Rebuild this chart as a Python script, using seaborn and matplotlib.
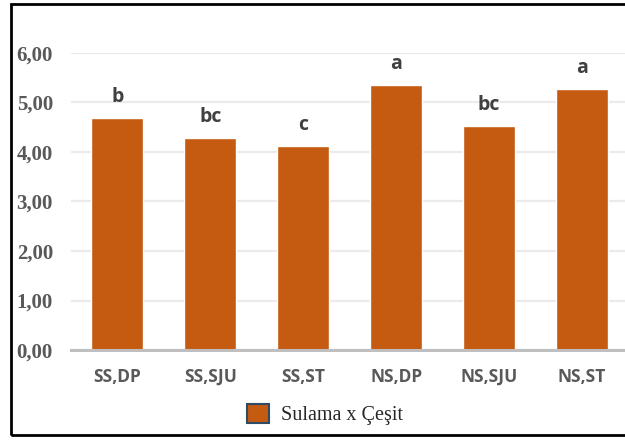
import matplotlib
matplotlib.use("Agg")
import matplotlib.pyplot as plt
import seaborn as sns
import pandas as pd
from matplotlib.patches import Patch, Rectangle
from matplotlib.ticker import FuncFormatter

categories = ["SS,DP", "SS,SJU", "SS,ST", "NS,DP", "NS,SJU", "NS,ST"]
values = [4.69, 4.28, 4.12, 5.35, 4.52, 5.27]
letters = ["b", "bc", "c", "a", "bc", "a"]
yticks = [0, 1, 2, 3, 4, 5, 6]
legend_label = "Sulama x Çeşit"

df = pd.DataFrame({"cat": categories, "val": values})

sns.set_style("white")
bar_color = "#C55A11"

fig = plt.figure(figsize=(6.25, 4.4), dpi=100)
ax = fig.add_axes([71/625, 1-350/440, (628.5-71)/625, (350-53)/440])

sns.barplot(data=df, x="cat", y="val", color=bar_color, saturation=1,
            width=0.56, ax=ax, zorder=3)

ax.set_ylim(0, 6)
ax.set_xlim(-0.5, len(categories)-0.5)
ax.set_yticks(yticks)
ax.yaxis.set_major_formatter(FuncFormatter(lambda v, p: f"{v:.2f}".replace(".", ",")))
ax.grid(axis="y", color="#ebebeb", linewidth=1.6, zorder=0)
ax.set_axisbelow(True)
for s in ["top", "right", "left"]:
    ax.spines[s].set_visible(False)
ax.spines["bottom"].set_color("#bfbfbf")
ax.spines["bottom"].set_linewidth(2.2)
ax.spines["bottom"].set_zorder(4)
ax.tick_params(axis="both", length=0)
ax.tick_params(axis="y", pad=13)
ax.tick_params(axis="x", pad=13)
ax.set_xlabel("")
ax.set_ylabel("")

for lab in ax.get_yticklabels():
    lab.set_fontfamily("Liberation Serif")
    lab.set_fontweight("bold")
    lab.set_fontsize(15)
    lab.set_color("#595959")
for lab in ax.get_xticklabels():
    lab.set_fontfamily("Open Sans")
    lab.set_fontweight("bold")
    lab.set_fontsize(12.5)
    lab.set_color("#595959")

for i, (v, t) in enumerate(zip(values, letters)):
    ax.text(i, v + 0.22, t, ha="center", va="bottom", fontfamily="Open Sans",
            fontweight="bold", fontsize=14, color="#404040")

handle = Patch(facecolor=bar_color, edgecolor="#2F4B66", linewidth=1.5)
fig.legend([handle], [legend_label], loc="center", bbox_to_anchor=(0.52, 0.058),
           frameon=False, prop={"family": "Liberation Serif", "size": 14.5},
           handlelength=1.1, handleheight=1.1, handletextpad=0.6)

fig.patches.append(Rectangle((11/625, 1-435/440), 1.2, (435-4)/440,
                             transform=fig.transFigure, fill=False,
                             edgecolor="black", linewidth=2, zorder=10))

fig.savefig("out.png", dpi=100)
